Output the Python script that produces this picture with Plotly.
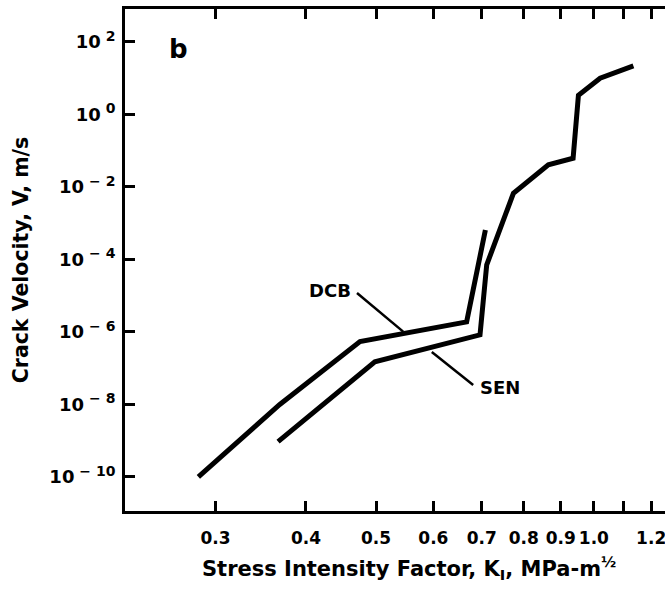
import math
import plotly.graph_objects as go

# Crack velocity vs. stress intensity factor (log-log)
k_dcb = [0.284, 0.368, 0.475, 0.667, 0.708]
v_dcb = [1.0e-10, 1.0e-8, 5.4e-7, 1.9e-6, 6.5e-4]

k_sen = [0.366, 0.498, 0.696, 0.711, 0.774, 0.865, 0.936, 0.952, 1.02, 1.134]
v_sen = [9.4e-10, 1.5e-7, 8.3e-7, 7.1e-5, 6.7e-3, 0.041, 0.062, 3.4, 10.0, 21.9]

x_tickvals = [0.3, 0.4, 0.5, 0.6, 0.7, 0.8, 0.9, 1.0, 1.1, 1.2]
x_ticktext = ["0.3", "0.4", "0.5", "0.6", "0.7", "0.8", "0.9", "1.0", "", "1.2"]
y_exponents = [2, 0, -2, -4, -6, -8, -10]
y_tickvals = [10.0 ** e for e in y_exponents]


def power_label(e):
    exp_txt = str(e).replace("-", "\u2212\u00a0")
    return "10<sup><span style='font-size:14px'>\u00a0%s</span></sup>" % exp_txt


y_ticktext = [power_label(e) for e in y_exponents]

FONT = "DejaVu Sans"
INK = "black"

fig = go.Figure()
fig.add_trace(go.Scatter(x=k_dcb, y=v_dcb, mode="lines",
                         line=dict(color=INK, width=5), showlegend=False))
fig.add_trace(go.Scatter(x=k_sen, y=v_sen, mode="lines",
                         line=dict(color=INK, width=5), showlegend=False))

x_range = [-0.6481, 0.0983]
y_range = [-10.94, 2.91]

axis_common = dict(
    type="log", showgrid=False, zeroline=False,
    ticks="inside", ticklen=10, tickwidth=2.5, tickcolor=INK,
    linecolor=INK, linewidth=3,
    tickfont=dict(family=FONT, size=17, color=INK, weight="bold"),
)

fig.update_layout(
    width=665, height=590,
    margin=dict(l=125, r=0, t=9, b=79),
    paper_bgcolor="white", plot_bgcolor="white",
    xaxis=dict(axis_common, range=x_range, showline=True, mirror="ticks",
               tickmode="array", tickvals=x_tickvals, ticktext=x_ticktext,
               ticklabelstandoff=10, ticklabeloverflow="allow"),
    yaxis=dict(axis_common, range=y_range, showline=True, mirror=False,
               tickmode="array", tickvals=y_tickvals, ticktext=y_ticktext,
               ticklabelstandoff=3,
               tickfont=dict(family=FONT, size=18, color=INK, weight="bold"),
               title=dict(text="Crack Velocity, V, m/s",
                          font=dict(family=FONT, size=20.5, color=INK, weight="bold"),
                          standoff=16)),
    yaxis2=dict(axis_common, range=y_range, overlaying="y", side="right",
                anchor="x", showline=False, showticklabels=False,
                tickmode="array", tickvals=y_tickvals),
)

# x-axis title, set slightly right of the plot centre
fig.add_annotation(x=0.526, y=-0.113, xref="paper", yref="paper",
                   xanchor="center", yanchor="middle", showarrow=False,
                   text="Stress Intensity Factor, K<sub>I</sub>, MPa-m<sup>\u00bd</sup>",
                   font=dict(family=FONT, size=21, color=INK, weight="bold"))

label_font = dict(family=FONT, size=18, color=INK, weight="bold")

# Curve labels with leader lines
fig.add_annotation(x=-0.3648, y=-4.869, xref="x", yref="y", text="DCB",
                   showarrow=False, font=label_font)
fig.add_annotation(x=-0.1298, y=-7.545, xref="x", yref="y", text="SEN",
                   showarrow=False, font=label_font)
fig.add_shape(type="line", xref="x", yref="y", x0=0.4705, y0=1.19e-5,
              x1=0.545, y1=1.02e-6, line=dict(color=INK, width=2.5))
fig.add_shape(type="line", xref="x", yref="y", x0=0.597, y0=2.8e-7,
              x1=0.681, y1=3.45e-8, line=dict(color=INK, width=2.5))

# Panel letter
fig.add_annotation(x=-0.5735, y=1.807, xref="x", yref="y", text="b",
                   showarrow=False, font=dict(family=FONT, size=26, color=INK, weight="bold"))

fig.write_html("out.html")
